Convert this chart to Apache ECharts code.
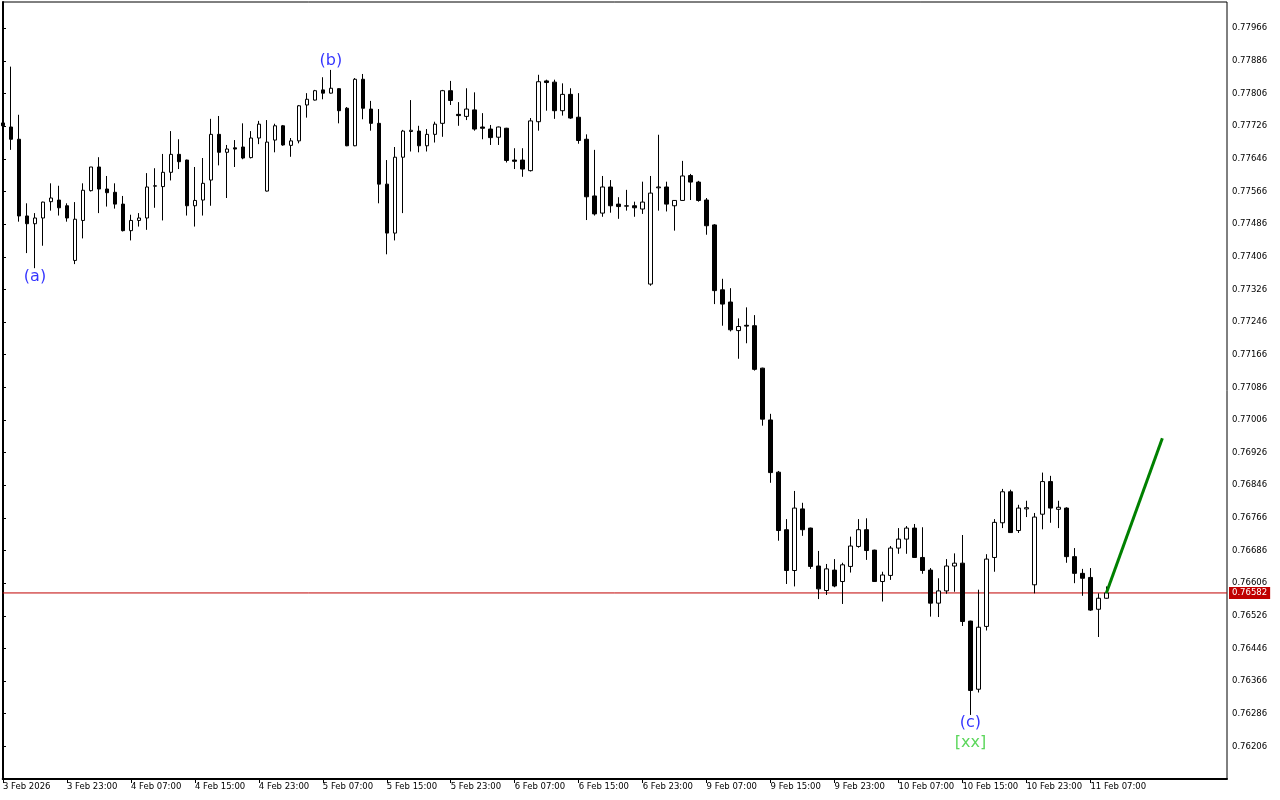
<!DOCTYPE html>
<html><head><meta charset="utf-8">
<script src="https://cdn.jsdelivr.net/npm/echarts@6/dist/echarts.min.js"></script>
<style>html,body{margin:0;padding:0;background:#fff}#c{width:1280px;height:800px}</style>
</head><body><div id="c"></div>
<script>
// x tick positions (bar index) and labels
const xTickIndex = [0,8,16,24,32,40,48,56,64,72,80,88,96,104,112,120,128,136];
const xTickLabels = ['3 Feb 2026','3 Feb 23:00','4 Feb 07:00','4 Feb 15:00','4 Feb 23:00','5 Feb 07:00','5 Feb 15:00','5 Feb 23:00','6 Feb 07:00','6 Feb 15:00','6 Feb 23:00','9 Feb 07:00','9 Feb 15:00','9 Feb 23:00','10 Feb 07:00','10 Feb 15:00','10 Feb 23:00','11 Feb 07:00'];

const opens = [
0.77734,0.77724,0.77694,0.77506,0.77487,0.77501,0.77541,0.77545,0.77531,0.77397,
0.77495,0.77568,0.77626,0.77572,0.77564,0.77535,0.77470,0.77495,0.77501,0.77579,
0.77578,0.77613,0.77657,0.77643,0.77531,0.77545,0.77594,0.77706,0.77662,0.77673,
0.77675,0.77649,0.77697,0.77567,0.77692,0.77727,0.77679,0.77690,0.77778,0.77790,
0.77815,0.77807,0.77818,0.77770,0.77678,0.77841,0.77768,0.77733,0.77584,0.77464,
0.77650,0.77713,0.77714,0.77678,0.77706,0.77733,0.77813,0.77755,0.77750,0.77766,
0.77724,0.77719,0.77699,0.77721,0.77643,0.77643,0.77617,0.77737,0.77837,0.77834,
0.77764,0.77804,0.77748,0.77694,0.77555,0.77513,0.77577,0.77535,0.77530,0.77531,
0.77523,0.77339,0.77575,0.77577,0.77531,0.77544,0.77605,0.77589,0.77545,0.77484,
0.77325,0.77295,0.77225,0.77238,0.77237,0.77133,0.77006,0.76878,0.76737,0.76637,
0.76788,0.76741,0.76648,0.76588,0.76638,0.76610,0.76647,0.76696,0.76737,0.76687,
0.76610,0.76625,0.76692,0.76714,0.76741,0.76669,0.76638,0.76557,0.76587,0.76648,
0.76655,0.76513,0.76346,0.76500,0.76669,0.76754,0.76830,0.76735,0.76788,0.76602,
0.76775,0.76855,0.76787,0.76790,0.76671,0.76630,0.76620,0.76542,0.76569];

const highs = [
0.77737,0.77872,0.77754,0.77537,0.77513,0.77541,0.77586,0.77580,0.77537,0.77540,
0.77586,0.77626,0.77650,0.77604,0.77586,0.77555,0.77509,0.77513,0.77611,0.77623,
0.77658,0.77714,0.77694,0.77644,0.77626,0.77648,0.77744,0.77751,0.77680,0.77692,
0.77733,0.77714,0.77739,0.77741,0.77732,0.77729,0.77697,0.77778,0.77807,0.77815,
0.77846,0.77864,0.77819,0.77773,0.77844,0.77854,0.77788,0.77768,0.77643,0.77675,
0.77717,0.77790,0.77727,0.77719,0.77737,0.77815,0.77837,0.77785,0.77819,0.77809,
0.77758,0.77729,0.77725,0.77722,0.77672,0.77672,0.77746,0.77852,0.77840,0.77840,
0.77831,0.77819,0.77807,0.77706,0.77668,0.77604,0.77594,0.77552,0.77570,0.77541,
0.77590,0.77604,0.77705,0.77590,0.77545,0.77641,0.77609,0.77592,0.77550,0.77486,
0.77352,0.77329,0.77255,0.77282,0.77263,0.77134,0.77021,0.76881,0.76763,0.76832,
0.76803,0.76742,0.76685,0.76653,0.76665,0.76656,0.76720,0.76763,0.76765,0.76688,
0.76634,0.76697,0.76741,0.76746,0.76751,0.76743,0.76643,0.76618,0.76665,0.76679,
0.76724,0.76514,0.76590,0.76677,0.76763,0.76837,0.76835,0.76798,0.76808,0.76778,
0.76877,0.76869,0.76808,0.76792,0.76692,0.76641,0.76643,0.76581,0.76598];

const lows = [
0.77724,0.77668,0.77492,0.77415,0.77378,0.77433,0.77519,0.77507,0.77492,0.77388,
0.77451,0.77566,0.77513,0.77529,0.77524,0.77468,0.77446,0.77480,0.77472,0.77526,
0.77495,0.77593,0.77621,0.77507,0.77480,0.77507,0.77531,0.77630,0.77550,0.77626,
0.77645,0.77647,0.77682,0.77566,0.77662,0.77678,0.77651,0.77684,0.77747,0.77789,
0.77792,0.77806,0.77733,0.77677,0.77677,0.77743,0.77715,0.77537,0.77412,0.77446,
0.77513,0.77664,0.77662,0.77664,0.77686,0.77700,0.77778,0.77727,0.77741,0.77715,
0.77694,0.77680,0.77680,0.77637,0.77621,0.77602,0.77615,0.77715,0.77764,0.77744,
0.77752,0.77744,0.77683,0.77496,0.77507,0.77504,0.77514,0.77499,0.77519,0.77504,
0.77511,0.77335,0.77519,0.77517,0.77470,0.77543,0.77545,0.77541,0.77460,0.77290,
0.77237,0.77223,0.77156,0.77194,0.77127,0.76992,0.76852,0.76710,0.76604,0.76598,
0.76722,0.76641,0.76567,0.76577,0.76596,0.76555,0.76632,0.76693,0.76663,0.76609,
0.76561,0.76614,0.76678,0.76678,0.76668,0.76629,0.76524,0.76523,0.76580,0.76585,
0.76501,0.76283,0.76338,0.76490,0.76634,0.76741,0.76729,0.76729,0.76768,0.76581,
0.76738,0.76754,0.76741,0.76656,0.76606,0.76575,0.76538,0.76474,0.76568];

const closes = [
0.77727,0.77694,0.77506,0.77487,0.77501,0.77540,0.77550,0.77526,0.77501,0.77498,
0.77569,0.77626,0.77572,0.77563,0.77535,0.77470,0.77495,0.77501,0.77577,0.77580,
0.77613,0.77657,0.77639,0.77531,0.77544,0.77586,0.77706,0.77662,0.77670,0.77670,
0.77648,0.77697,0.77731,0.77687,0.77727,0.77680,0.77690,0.77776,0.77792,0.77813,
0.77807,0.77819,0.77764,0.77678,0.77841,0.77770,0.77733,0.77584,0.77464,0.77650,
0.77714,0.77716,0.77678,0.77706,0.77731,0.77813,0.77789,0.77752,0.77768,0.77719,
0.77721,0.77698,0.77724,0.77642,0.77640,0.77621,0.77739,0.77835,0.77833,0.77764,
0.77804,0.77746,0.77691,0.77553,0.77511,0.77577,0.77531,0.77529,0.77531,0.77526,
0.77540,0.77562,0.77577,0.77535,0.77544,0.77604,0.77589,0.77544,0.77482,0.77323,
0.77290,0.77227,0.77235,0.77236,0.77130,0.77008,0.76877,0.76735,0.76637,0.76790,
0.76737,0.76647,0.76592,0.76641,0.76599,0.76651,0.76697,0.76737,0.76686,0.76610,
0.76626,0.76692,0.76714,0.76741,0.76669,0.76637,0.76557,0.76587,0.76648,0.76655,
0.76512,0.76343,0.76498,0.76665,0.76755,0.76830,0.76730,0.76790,0.76791,0.76768,
0.76855,0.76790,0.76792,0.76671,0.76630,0.76618,0.76540,0.76569,0.76582];

const currentPrice = 0.76582;
const projectionX = [138, 145];
const projectionY = [0.76582, 0.76961];
const waveIndex = [4, 41, 121, 121];
const waveText = ['(a)', '(b)', '(c)', '[xx]'];
const xMin = -0.0375, xMax = 153.0875;
const yMin = 0.76126, yMax = 0.780304, yStep = 0.0008;

const candleData = opens.map((o, i) => [i, o, closes[i], lows[i], highs[i]]);
const waveAnchor = [lows[4], highs[41], lows[121], lows[121]];
const wavePos = ['bottom', 'top', 'bottom', 'bottom'];
const waveDist = [1, 1, 0, 20];
const waveColor = ['#0000ff', '#0000ff', '#0000ff', '#33cc33'];

const chart = echarts.init(document.getElementById('c'), null, {renderer: 'canvas'});
chart.setOption({
  animation: false,
  backgroundColor: '#fff',
  grid: {left: 2, right: 53, top: 2, bottom: 21, show: true, borderColor: '#000', borderWidth: 1, backgroundColor: '#fff'},
  xAxis: {
    type: 'value', min: xMin, max: xMax,
    splitLine: {show: false},
    axisLine: {show: true, onZero: false, lineStyle: {color: '#000', width: 2}},
    axisTick: {show: true, customValues: xTickIndex, length: 4, lineStyle: {color: '#000', width: 1}},
    axisLabel: {
      customValues: xTickIndex,
      formatter: v => xTickLabels[xTickIndex.indexOf(Math.round(v))] || '',
      align: 'left', margin: 3, fontSize: 8.5, fontFamily: 'DejaVu Sans', color: '#000'
    }
  },
  yAxis: {
    type: 'value', position: 'right', min: yMin, max: yMax, interval: yStep,
    splitLine: {show: false},
    axisLine: {show: true, lineStyle: {color: '#000', width: 2}},
    axisTick: {show: true, length: 3, lineStyle: {color: '#000', width: 1}},
    axisLabel: {
      showMinLabel: false, showMaxLabel: false,
      formatter: v => v.toFixed(5),
      margin: 5, fontSize: 8.5, fontFamily: 'DejaVu Sans', color: '#000'
    }
  },
  series: [
    {
      type: 'line', symbol: 'none', silent: true, z: 1,
      data: [[xMin, currentPrice], [xMax, currentPrice]],
      lineStyle: {color: '#c00000', width: 1},
      endLabel: {show: true, distance: 2, formatter: currentPrice.toFixed(5),
        backgroundColor: '#c00000', color: '#fff', padding: [2, 3, 1, 3], fontSize: 8.5, fontFamily: 'DejaVu Sans'}
    },
    {
      type: 'candlestick', z: 2,
      dimensions: ['idx', 'open', 'close', 'lowest', 'highest'],
      encode: {x: 'idx', y: ['open', 'close', 'lowest', 'highest']},
      data: candleData,
      barWidth: 4,
      itemStyle: {color: '#fff', color0: '#000', borderColor: '#000', borderColor0: '#000', borderColorDoji: '#000', borderWidth: 1}
    },
    {
      type: 'line', symbol: 'none', silent: true, z: 3,
      data: projectionX.map((x, i) => [x, projectionY[i]]),
      lineStyle: {color: '#008000', width: 3}
    },
    {
      type: 'scatter', silent: true, symbolSize: 0,
      data: waveIndex.map((x, i) => ({
        value: [x, waveAnchor[i]],
        label: {show: true, position: wavePos[i], distance: waveDist[i], formatter: waveText[i],
          color: waveColor[i], fontSize: 16, fontFamily: 'DejaVu Sans'}
      }))
    }
  ]
});
</script>
</body></html>
